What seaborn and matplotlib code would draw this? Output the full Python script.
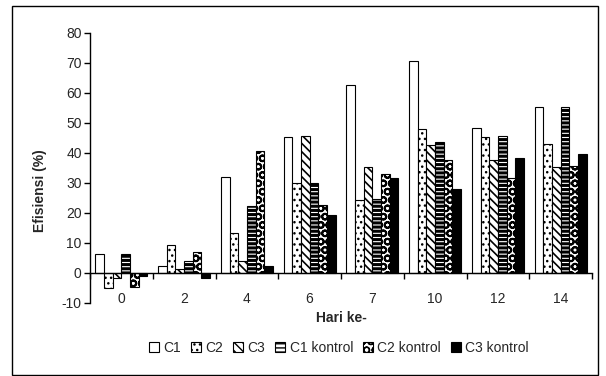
import matplotlib
matplotlib.use("Agg")
import matplotlib.pyplot as plt
import seaborn as sns
import pandas as pd
from matplotlib.patches import Patch, Rectangle

days = ["0", "2", "4", "6", "7", "10", "12", "14"]
series = ["C1", "C2", "C3", "C1 kontrol", "C2 kontrol", "C3 kontrol"]
c1 = [6.5, 2.5, 32, 45.2, 62.6, 70.6, 48.3, 55.5]
c2 = [-5, 9.5, 13.5, 30.1, 24.5, 48.0, 45.3, 43.0]
c3 = [-1.5, 1.5, 4, 45.6, 35.2, 42.7, 37.7, 35.2]
c1k = [6.5, 4, 22.5, 30.0, 24.7, 43.6, 45.6, 55.5]
c2k = [-4.5, 7, 40.6, 22.8, 33.0, 37.6, 31.6, 35.7]
c3k = [-1, -1.5, 2.5, 19.4, 31.7, 28.0, 38.3, 39.6]
yticks = [-10, 0, 10, 20, 30, 40, 50, 60, 70, 80]

values = [c1, c2, c3, c1k, c2k, c3k]
rows = []
for s, vals in zip(series, values):
    for d, v in zip(days, vals):
        rows.append({"Hari": d, "Seri": s, "Efisiensi": v})
df = pd.DataFrame(rows)

sns.set_style("white")
plt.rcParams["font.family"] = ["Liberation Sans", "DejaVu Sans"]
plt.rcParams["hatch.linewidth"] = 1.0

fig = plt.figure(figsize=(6.06, 3.76), dpi=100)
ax = fig.add_axes([90 / 606, 1 - 303 / 376, 502 / 606, 270 / 376])

sns.barplot(data=df, x="Hari", y="Efisiensi", hue="Seri", order=days,
            hue_order=series, width=0.83, ax=ax, legend=False,
            edgecolor="black", linewidth=0.8, saturation=1)

styles = [
    dict(fc="white", hatch=None, hlw=1.0),
    dict(fc="white", hatch="...", hlw=1.0),
    dict(fc="white", hatch="\\\\\\\\", hlw=1.2),
    dict(fc="white", hatch="----", hlw=2.2),
    dict(fc="white", hatch="OO", hlw=1.4),
    dict(fc="black", hatch=None, hlw=1.0),
]


def apply_style(p, st):
    p.set_facecolor(st["fc"])
    p.set_edgecolor("black")
    if st["hatch"]:
        p.set_hatch(st["hatch"])
        if hasattr(p, "set_hatch_linewidth"):
            p.set_hatch_linewidth(st["hlw"])


for cont, st in zip(ax.containers, styles):
    for bar in cont:
        apply_style(bar, st)

ax.set_xlim(-0.5, len(days) - 0.5)
ax.set_ylim(-10, 80)
ax.set_yticks(yticks)
ax.set_yticklabels([str(t) for t in yticks])

for s in ["top", "right"]:
    ax.spines[s].set_visible(False)
ax.spines["left"].set_color("black")
ax.spines["left"].set_linewidth(1.0)
ax.spines["bottom"].set_position(("data", 0))
ax.spines["bottom"].set_color("black")
ax.spines["bottom"].set_linewidth(1.0)

ax.tick_params(axis="y", which="major", direction="out", length=4, width=1,
               color="black", labelsize=10, pad=2, left=True)
ax.set_xticks([i + 0.5 for i in range(-1, len(days))], minor=False)
ax.set_xticklabels([""] * (len(days) + 1))
ax.set_xticks(list(range(len(days))), minor=True)
ax.set_xticklabels(days, minor=True)
ax.tick_params(axis="x", which="major", direction="out", length=4, width=1,
               color="black", bottom=True)
ax.tick_params(axis="x", which="minor", length=0, labelsize=10, pad=14)

ax.set_xlabel("Hari ke-", fontsize=10, fontweight="bold")
ax.xaxis.set_label_coords(0.5, -0.03)
ax.set_ylabel("Efisiensi (%)", fontsize=10, fontweight="bold")
ax.yaxis.set_label_coords(-0.085, 0.415)

handles = []
for s, st in zip(series, styles):
    h = Patch(facecolor=st["fc"], edgecolor="black", linewidth=0.8, label=s)
    apply_style(h, st)
    handles.append(h)
fig.legend(handles=handles, loc="center", bbox_to_anchor=(339 / 606, 1 - 348 / 376),
           ncol=6, frameon=False, fontsize=10, handlelength=0.75, handleheight=0.75,
           handletextpad=0.3, columnspacing=0.7, borderpad=0)

fig.patches.append(Rectangle((12 / 606, 1 - 375 / 376), 586 / 606, 369 / 376,
                             transform=fig.transFigure, fill=False,
                             edgecolor="black", linewidth=1.0))

fig.savefig("out.png", dpi=100)
